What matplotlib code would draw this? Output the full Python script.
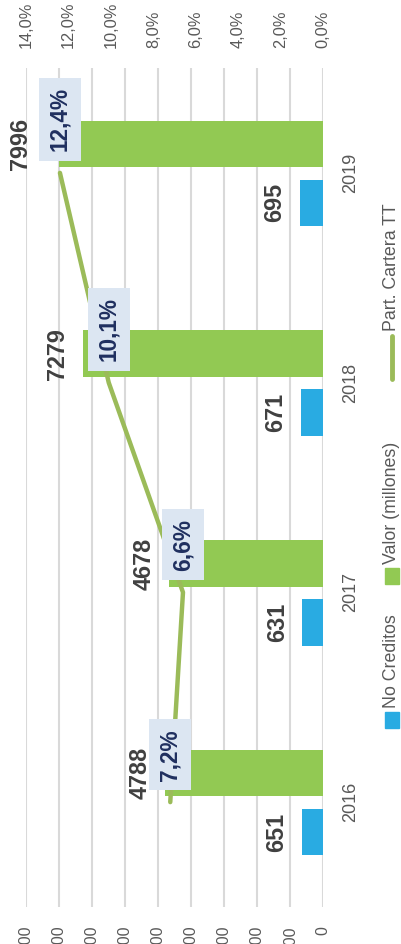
import matplotlib
matplotlib.use('Agg')
import matplotlib.pyplot as plt
from matplotlib.patches import Rectangle
from matplotlib.lines import Line2D
import numpy as np

plt.rcParams['font.family'] = ['Liberation Sans', 'DejaVu Sans']

# datos
anios = ['2016', '2017', '2018', '2019']
no_creditos = [651, 631, 671, 695]
valor = [4788, 4678, 7279, 7996]
part_cartera = [7.2, 6.6, 10.1, 12.4]
ticks_valor = list(range(0, 9001, 1000))
ticks_pct = [0, 2, 4, 6, 8, 10, 12, 14]

azul = '#29ABE2'
verde = '#92C953'
verde_linea = '#9BBB59'
gris = '#595959'

# el grafico va girado 90 grados (como en la imagen original)
W, H = 402, 944
fig = plt.figure(figsize=(W / 100, H / 100), dpi=100)

def fx(px):
    return px / W

def fy(py):
    return 1 - py / H

ax = fig.add_axes([fx(26), fy(907), (323 - 26) / W, (907 - 68) / H])
pos = np.arange(len(anios))
alto = 0.222
ax.barh(pos - 0.143, no_creditos, height=alto, color=azul, zorder=2)
ax.barh(pos + 0.138, valor, height=alto, color=verde, zorder=2)
ax.set_xlim(9000, 0)
ax.set_ylim(-0.5, len(anios) - 0.5)
ax.set_xticks(ticks_valor)
ax.set_xticklabels([str(t) for t in ticks_valor], rotation=90)
ax.grid(axis='x', color='#D9D9D9', linewidth=1.5, zorder=0)
ax.set_axisbelow(True)
ax.yaxis.tick_right()
ax.set_yticks(pos)
ax.set_yticklabels(anios, rotation=90, va='center')
ax.tick_params(axis='x', length=0, pad=13.5, labelsize=11.5, labelcolor=gris)
ax.tick_params(axis='y', length=0, pad=14, labelsize=13, labelcolor=gris)
for s in ax.spines.values():
    s.set_visible(False)

# etiquetas de valores
for i in range(len(anios)):
    ax.annotate(str(no_creditos[i]), xy=(no_creditos[i], pos[i] - 0.143), xytext=(-18, 0),
                textcoords='offset points', rotation=90, ha='center', va='center',
                fontsize=16.8, fontweight='bold', color='#404040')
    dx = -27.7 if i == 3 else -18
    ax.annotate(str(valor[i]), xy=(valor[i], pos[i] + 0.138), xytext=(dx, 0),
                textcoords='offset points', rotation=90, ha='center', va='center',
                fontsize=16.8, fontweight='bold', color='#404040')

# eje secundario: participacion
ax2 = ax.twiny()
ax2.set_xlim(14, 0)
ax2.plot(part_cartera, pos, color=verde_linea, lw=3.2, solid_capstyle='round', zorder=3)
ax2.set_xticks(ticks_pct)
ax2.set_xticklabels([('%.1f%%' % t).replace('.', ',') for t in ticks_pct], rotation=90)
ax2.tick_params(axis='x', length=0, pad=14.4, labelsize=11.8, labelcolor=gris)
for s in ax2.spines.values():
    s.set_visible(False)

for i in range(len(anios)):
    ax2.annotate(('%.1f%%' % part_cartera[i]).replace('.', ','), xy=(part_cartera[i], pos[i]),
                 xytext=(0, 15.5), textcoords='offset points', rotation=90,
                 ha='center', va='bottom', fontsize=16.3, fontweight='bold', color='#1F2F5F',
                 bbox=dict(boxstyle='square,pad=0.42', fc='#DCE6F2', ec='none'), zorder=5)

# leyenda
fig.patches.append(Rectangle((fx(385), fy(728)), 14 / W, 16 / H, transform=fig.transFigure,
                             color=azul))
fig.text(fx(392), fy(708), 'No Creditos', rotation=90, ha='center', va='bottom',
         fontsize=12.8, color=gris)
fig.patches.append(Rectangle((fx(385), fy(584)), 14 / W, 16 / H, transform=fig.transFigure,
                             color=verde))
fig.text(fx(392), fy(564), 'Valor (millones)', rotation=90, ha='center', va='bottom',
         fontsize=12.8, color=gris)
fig.lines.append(Line2D([fx(392), fx(392)], [fy(379), fy(336)], transform=fig.transFigure,
                        color=verde_linea, lw=3.5, solid_capstyle='round'))
fig.text(fx(392), fy(331), 'Part. Cartera TT', rotation=90, ha='center', va='bottom',
         fontsize=12.8, color=gris)

fig.savefig('out.png', dpi=100)
